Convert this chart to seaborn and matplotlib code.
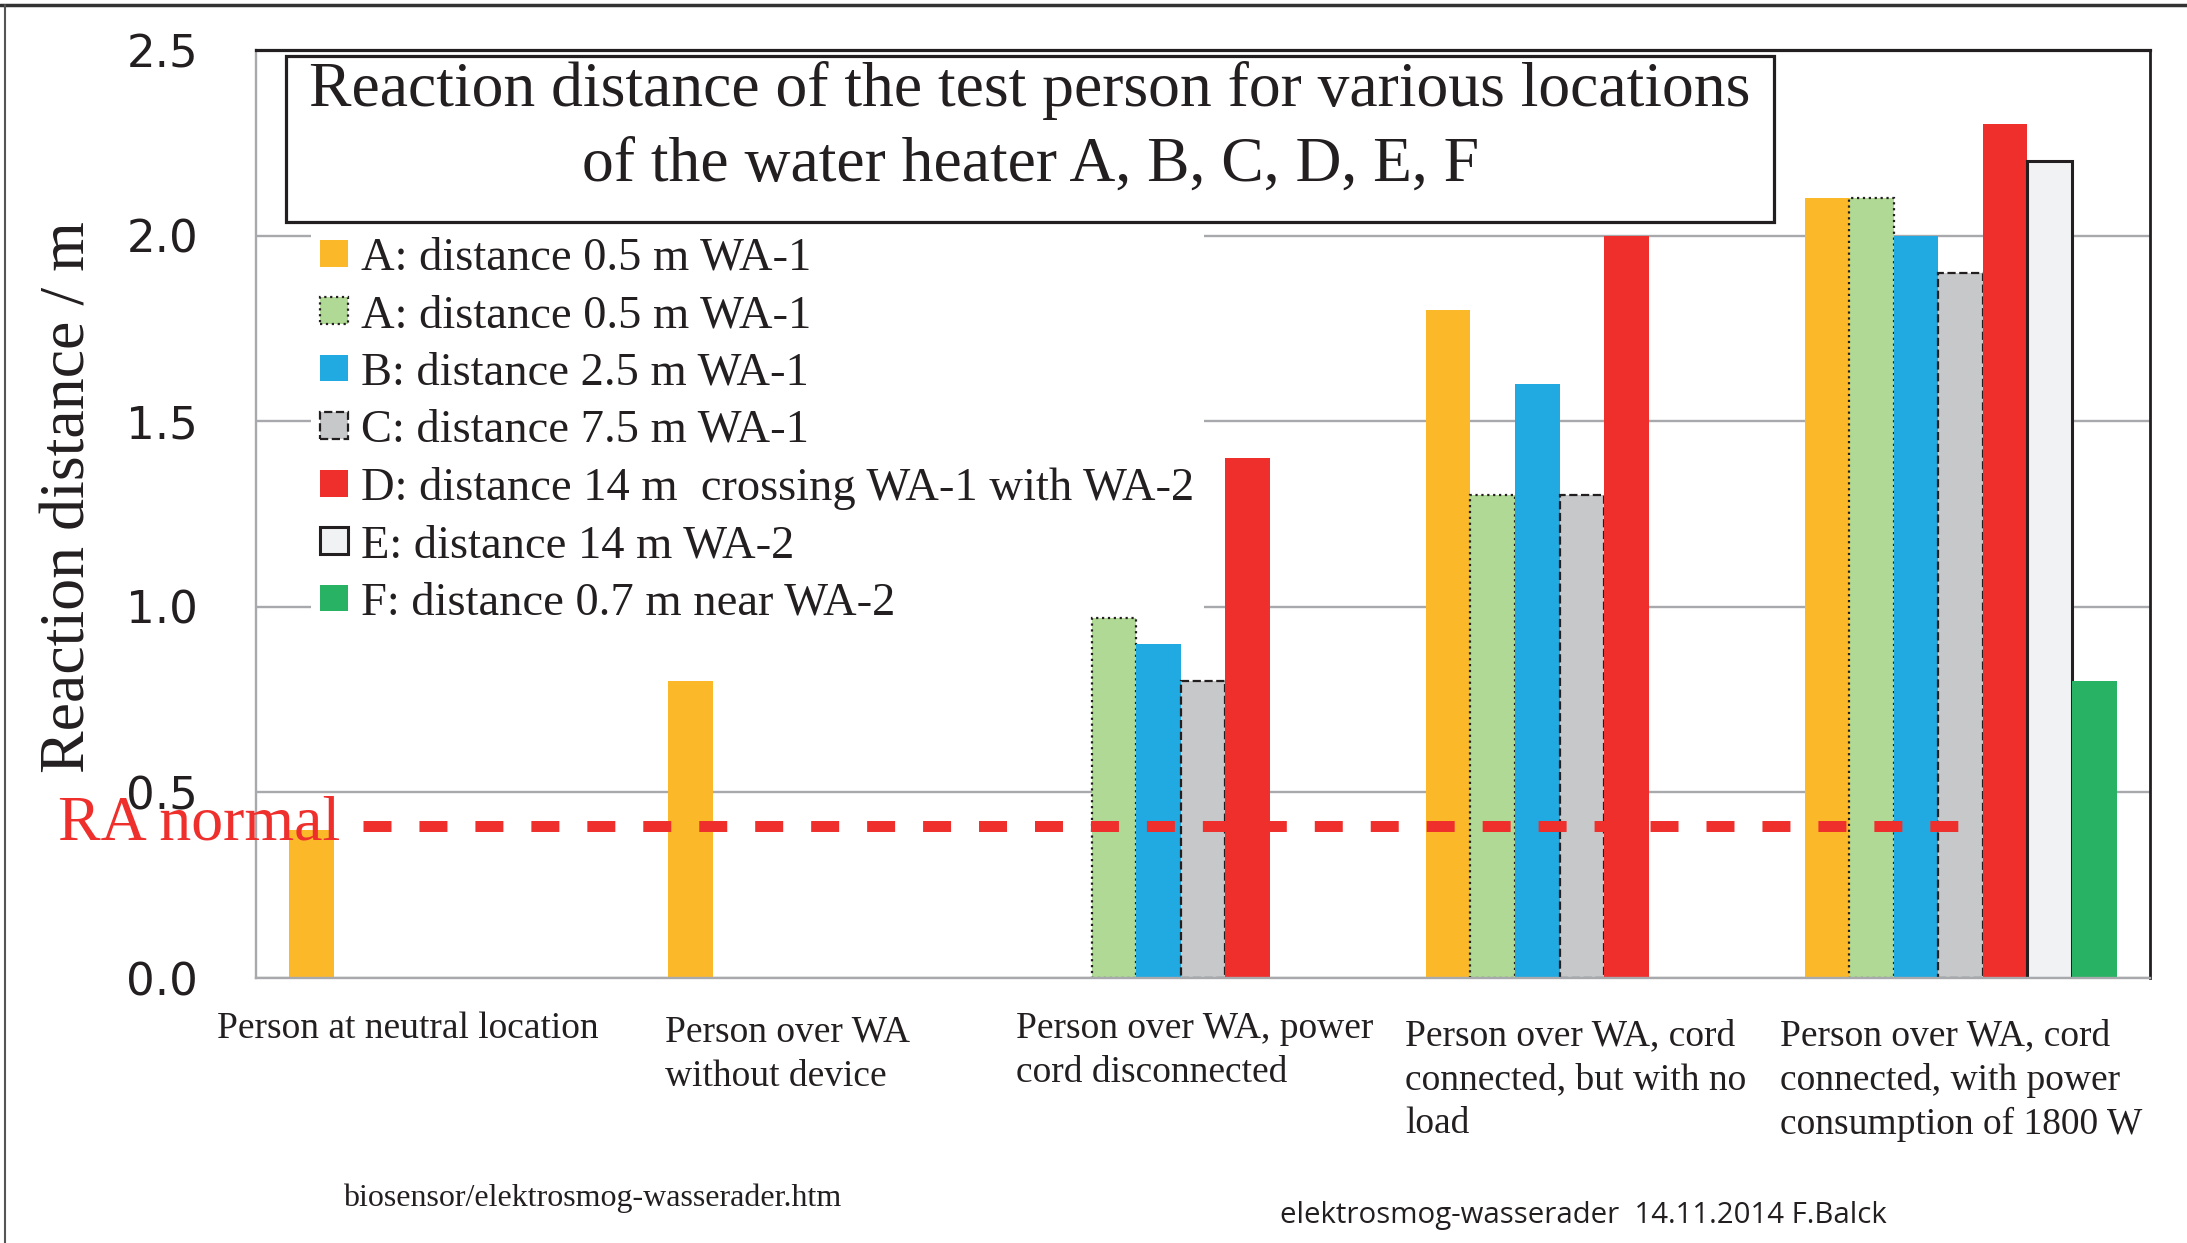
import numpy as np
import pandas as pd
import matplotlib
matplotlib.use("Agg")
import matplotlib.pyplot as plt
import matplotlib.colors as mcolors
from matplotlib.patches import Patch, Rectangle
from matplotlib.lines import Line2D
from matplotlib.transforms import ScaledTranslation, blended_transform_factory
import seaborn as sns

# ---------------- data ----------------
categories = [
    "Person at neutral location",
    "Person over WA\nwithout device",
    "Person over WA, power\ncord disconnected",
    "Person over WA, cord\nconnected, but with no\nload",
    "Person over WA, cord\nconnected, with power\nconsumption of 1800 W",
]
series_keys = ["A1", "A2", "B", "C", "D", "E", "F"]
series_labels = [
    "A: distance 0.5 m WA-1",
    "A: distance 0.5 m WA-1",
    "B: distance 2.5 m WA-1",
    "C: distance 7.5 m WA-1",
    "D: distance 14 m  crossing WA-1 with WA-2",
    "E: distance 14 m WA-2",
    "F: distance 0.7 m near WA-2",
]
nan = np.nan
values_A1 = [0.4, 0.8, nan, 1.8, 2.1]
values_A2 = [nan, nan, 0.97, 1.3, 2.1]
values_B = [nan, nan, 0.9, 1.6, 2.0]
values_C = [nan, nan, 0.8, 1.3, 1.9]
values_D = [nan, nan, 1.4, 2.0, 2.3]
values_E = [nan, nan, nan, nan, 2.2]
values_F = [nan, nan, nan, nan, 0.8]
ra_normal = 0.41
y_ticks = [0.0, 0.5, 1.0, 1.5, 2.0, 2.5]

title_lines = ["Reaction distance of the test person for various locations",
               "of the water heater A, B, C, D, E, F"]
ylabel = "Reaction distance / m"
ra_label = "RA normal"
footer_left = "biosensor/elektrosmog-wasserader.htm"
footer_right = "elektrosmog-wasserader  14.11.2014 F.Balck"

# ---------------- styles ----------------
colors = ["#FBB92A", "#B0D995", "#21A9E1", "#C7C8CA", "#EE2F2C", "#F1F2F4", "#27B264"]
edge_styles = [None, (":", 1.6), None, ("--", 1.6), None, ("-", 2.2), None]
TXT = "#231F20"
GRID = "#A7A9AC"
SERIF = "Liberation Serif"
SANS = "Open Sans"
TICKFONT = "DejaVu Sans"

all_values = [values_A1, values_A2, values_B, values_C, values_D, values_E, values_F]
rows = []
for key, vals in zip(series_keys, all_values):
    for cat, v in zip(categories, vals):
        if not np.isnan(v):
            rows.append({"category": cat, "series": key, "value": v})
df = pd.DataFrame(rows)

W, H = 2187, 1243
sns.set_style("white")
fig = plt.figure(figsize=(W / 100, H / 100), dpi=100)
ax = fig.add_axes([256 / W, 1 - 978 / H, (2150 - 256) / W, (978 - 50) / H])

sns.barplot(data=df, x="category", y="value", hue="series", order=categories,
            hue_order=series_keys, palette=dict(zip(series_keys, colors)),
            width=0.8235, dodge=True, saturation=1, errorbar=None,
            legend=False, ax=ax, zorder=2)

color_to_idx = {mcolors.to_hex(c): i for i, c in enumerate(colors)}
for bar in ax.patches:
    idx = color_to_idx.get(mcolors.to_hex(bar.get_facecolor()))
    if idx is None:
        continue
    bar.set_zorder(2)
    st = edge_styles[idx]
    if st is None:
        bar.set_linewidth(0)
    else:
        bar.set_edgecolor(TXT)
        bar.set_linestyle(st[0])
        bar.set_linewidth(st[1])

ax.set_xlim(-0.5, len(categories) - 0.5)
ax.set_ylim(0, 2.5)
ax.set_xlabel("")
ax.set_ylabel("")

# reference line
ax.axhline(ra_normal, xmin=(363 - 256) / 1894, xmax=(1990 - 256) / 1894,
           color="#EE2F2C", lw=7.9, dashes=(2.55, 2.55), zorder=5,
           solid_capstyle="butt", dash_capstyle="butt")
trans = blended_transform_factory(ax.transAxes, ax.transData) + \
    ScaledTranslation(0, -14 / 100, fig.dpi_scale_trans)
ax.text((58 - 256) / 1894, ra_normal, ra_label, transform=trans, color="#EE2F2C",
        family=SERIF, fontsize=46, ha="left", va="baseline", zorder=10, clip_on=False)

# grid & spines
ax.set_yticks(y_ticks)
ax.set_yticklabels([f"{t:.1f}" for t in y_ticks], family=TICKFONT, fontsize=32.5, color=TXT)
ax.yaxis.grid(True, color=GRID, lw=1.7)
ax.set_axisbelow(True)
ax.tick_params(axis="y", length=13.5, width=1.7, color=GRID, pad=28, direction="out")
ax.set_xticks(range(len(categories)))
ax.set_xticks(np.arange(-0.5, len(categories)), minor=True)
ax.tick_params(axis="x", which="major", length=0, pad=24)
ax.tick_params(axis="x", which="minor", length=8.6, width=1.7, color=GRID, direction="out")
ax.set_xticklabels(categories, family=SERIF, fontsize=27, color=TXT,
                   multialignment="left", linespacing=1.36)
dx = [-38, -37, -8, -6, 1]
dy = [0, -4, 0, -7, -7]
for lab, ox, oy in zip(ax.get_xticklabels(), dx, dy):
    lab.set_transform(lab.get_transform() + ScaledTranslation(ox / 100, oy / 100, fig.dpi_scale_trans))
    lab.set_verticalalignment("top")

for s in ["left", "bottom"]:
    ax.spines[s].set_color(GRID)
    ax.spines[s].set_linewidth(1.7)
ax.spines["top"].set_color(TXT)
ax.spines["top"].set_linewidth(2.3)
ax.spines["right"].set_color(TXT)
ax.spines["right"].set_linewidth(2.0)

# y label
ax.set_ylabel(ylabel, family=SERIF, fontsize=46, color=TXT)
ax.yaxis.set_label_coords((70 - 256) / 1894, (978 - 497) / 928)
ax.yaxis.label.set_va("center")

# legend
handles = []
for i, c in enumerate(colors):
    st = edge_styles[i]
    if st is None:
        handles.append(Patch(facecolor=c, edgecolor="none", linewidth=0))
    else:
        handles.append(Patch(facecolor=c, edgecolor=TXT, linestyle=st[0], linewidth=st[1]))
leg = ax.legend(handles, series_labels, loc="upper left",
                bbox_to_anchor=(311 / W, 1 - 228 / H), bbox_transform=fig.transFigure,
                prop={"family": SERIF, "size": 33.5}, frameon=True, facecolor="white",
                edgecolor="none", framealpha=1, fancybox=False, borderpad=0.2,
                labelspacing=0.32, handlelength=0.6, handleheight=0.5,
                handletextpad=0.28, borderaxespad=0)
leg.set_zorder(1.5)  # above gridlines, below bars
for t in leg.get_texts():
    t.set_color(TXT)

# title box
fig.add_artist(Rectangle((286 / W, 1 - 222 / H), 1488 / W, 166 / H, transform=fig.transFigure,
                         facecolor="white", edgecolor=TXT, linewidth=2.3, zorder=3))
fig.text(1030 / W, 1 - 90 / H, title_lines[0], family=SERIF, fontsize=45.8, color=TXT,
         ha="center", va="center", zorder=4)
fig.text(1030 / W, 1 - 166 / H, title_lines[1], family=SERIF, fontsize=45.8, color=TXT,
         ha="center", va="center", zorder=4)

# footers
fig.text(592 / W, 1 - 1198 / H, footer_left, family=SERIF, fontsize=23, color=TXT,
         ha="center", va="center")
fig.text(1583 / W, 1 - 1215 / H, footer_right, family=SANS, fontsize=21.2, color=TXT,
         ha="center", va="center")

# outer frame
fig.add_artist(Line2D([0, 1], [1 - 5 / H, 1 - 5 / H], transform=fig.transFigure,
                      color="#333333", lw=2.5))
fig.add_artist(Line2D([5 / W, 5 / W], [0, 1 - 5 / H], transform=fig.transFigure,
                      color="#555555", lw=1.5))

fig.savefig("out.png", dpi=100, facecolor="white")
